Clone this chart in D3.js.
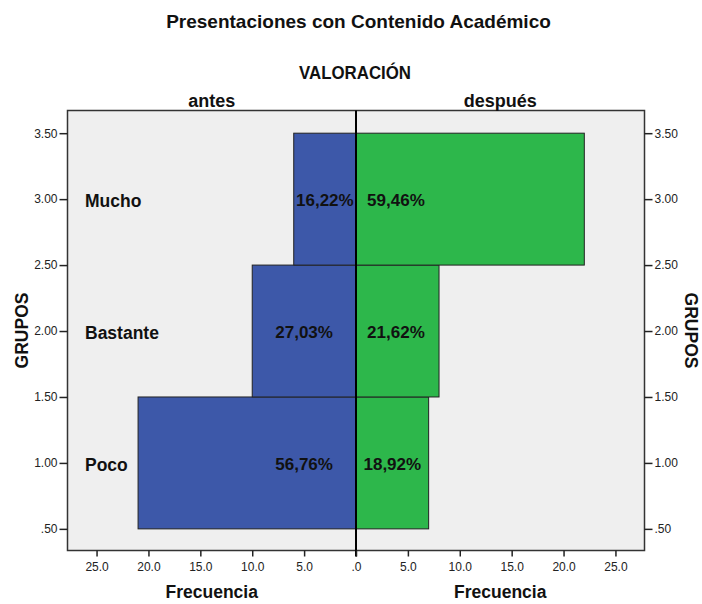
<!DOCTYPE html>
<html>
<head>
<meta charset="utf-8">
<script src="https://cdn.jsdelivr.net/npm/d3@7"></script>
<style>
  html, body { margin: 0; padding: 0; background: #ffffff; }
  svg { display: block; font-family: "Liberation Sans", Arial, sans-serif; }
</style>
</head>
<body>
<svg id="chart" width="702" height="604"></svg>
<script>
// ---- data ----
const groups = ["Poco", "Bastante", "Mucho"];
const groupValues = [1, 2, 3];
const antes = [21, 10, 6];
const despues = [7, 8, 22];
const antesPct = ["56,76%", "27,03%", "16,22%"];
const despuesPct = ["18,92%", "21,62%", "59,46%"];
const yTicks = [0.5, 1.0, 1.5, 2.0, 2.5, 3.0, 3.5];
const xTicks = [0, 5, 10, 15, 20, 25];

(function () {
const svg = d3.select("#chart");

const pL = 67.5, pR = 644.5, pT = 110.5, pB = 550.5, mid = 356;
const xL = d3.scaleLinear().domain([0, 27.8]).range([mid, pL]);
const xR = d3.scaleLinear().domain([0, 27.8]).range([mid, pR]);
const y = d3.scaleLinear().domain([0.336, 3.672]).range([pB, pT]);

const blue = "#3d58a9", green = "#2db74b";

// background
svg.append("rect").attr("x", pL).attr("y", pT)
  .attr("width", pR - pL).attr("height", pB - pT)
  .attr("fill", "#efefef");

// bars
const rows = groups.map((g, i) => ({ g, v: groupValues[i], a: antes[i], d: despues[i], ap: antesPct[i], dp: despuesPct[i] }));

svg.append("g").selectAll("rect").data(rows).join("rect")
  .attr("x", d => xL(d.a)).attr("y", d => y(d.v + 0.5))
  .attr("width", d => xL(0) - xL(d.a)).attr("height", d => y(d.v - 0.5) - y(d.v + 0.5))
  .attr("fill", blue).attr("stroke", "#222").attr("stroke-width", 1);

svg.append("g").selectAll("rect").data(rows).join("rect")
  .attr("x", xR(0)).attr("y", d => y(d.v + 0.5))
  .attr("width", d => xR(d.d) - xR(0)).attr("height", d => y(d.v - 0.5) - y(d.v + 0.5))
  .attr("fill", green).attr("stroke", "#222").attr("stroke-width", 1);

// frame
svg.append("rect").attr("x", pL).attr("y", pT)
  .attr("width", pR - pL).attr("height", pB - pT)
  .attr("fill", "none").attr("stroke", "#333").attr("stroke-width", 1.5);

// center line
svg.append("line").attr("x1", mid).attr("x2", mid).attr("y1", pT).attr("y2", pB + 6)
  .attr("stroke", "#000").attr("stroke-width", 2);

// axes
const fmtY = v => d3.format(".2f")(v).replace(/^0\./, ".");
const fmtX = v => d3.format(".1f")(v).replace(/^0\./, ".");

function styleAxis(g) {
  g.select(".domain").remove();
  g.selectAll(".tick line").attr("stroke", "#222").attr("stroke-width", 1.5);
  g.selectAll(".tick text").attr("fill", "#222").style("font-size", "12px")
    .style("font-family", "'Liberation Sans', Arial, sans-serif");
}

svg.append("g").attr("transform", `translate(${pL},0)`)
  .call(d3.axisLeft(y).tickValues(yTicks).tickFormat(fmtY).tickSize(8).tickPadding(2))
  .call(styleAxis);
svg.append("g").attr("transform", `translate(${pR},0)`)
  .call(d3.axisRight(y).tickValues(yTicks).tickFormat(fmtY).tickSize(8).tickPadding(2))
  .call(styleAxis);
svg.append("g").attr("transform", `translate(0,${pB})`)
  .call(d3.axisBottom(xL).tickValues(xTicks).tickFormat(fmtX).tickSize(6).tickPadding(6))
  .call(styleAxis);
svg.append("g").attr("transform", `translate(0,${pB})`)
  .call(d3.axisBottom(xR).tickValues(xTicks.filter(v => v > 0)).tickFormat(fmtX).tickSize(6).tickPadding(6))
  .call(styleAxis);

// category labels
svg.append("g").selectAll("text").data(rows).join("text")
  .attr("x", 85).attr("y", d => y(d.v) + 2).attr("dy", "0.35em")
  .style("font-size", "17.5px").style("font-weight", "bold").attr("fill", "#111")
  .text(d => d.g);

// percent labels (left): centred on bar, but kept near the centre line
svg.append("g").selectAll("text").data(rows).join("text")
  .attr("x", d => Math.max(xL(d.a / 2), xL(5))).attr("y", d => y(d.v) + 1).attr("dy", "0.35em")
  .attr("text-anchor", "middle")
  .style("font-size", "17px").style("font-weight", "bold").attr("fill", "#111")
  .text(d => d.ap);

// percent labels (right)
svg.append("g").selectAll("text").data(rows).join("text")
  .attr("x", d => Math.min(xR(d.d / 2), xR(3.85))).attr("y", d => y(d.v) + 1).attr("dy", "0.35em")
  .attr("text-anchor", "middle")
  .style("font-size", "17px").style("font-weight", "bold").attr("fill", "#111")
  .text(d => d.dp);

// titles
const bold = (sel, size) => sel.style("font-size", size + "px").style("font-weight", "bold").attr("fill", "#111").attr("text-anchor", "middle");
svg.append("text").attr("x", 358.5).attr("y", 28).call(bold, 19).text("Presentaciones con Contenido Académico");
svg.append("text").attr("x", 355).attr("y", 79).call(bold, 18)
  .attr("textLength", 112).attr("lengthAdjust", "spacingAndGlyphs").text("VALORACIÓN");
svg.append("text").attr("x", (pL + mid) / 2).attr("y", 107).call(bold, 18).text("antes");
svg.append("text").attr("x", (mid + pR) / 2).attr("y", 107).call(bold, 18).text("después");
svg.append("text").attr("x", (pL + mid) / 2).attr("y", 598).call(bold, 17.5).text("Frecuencia");
svg.append("text").attr("x", (mid + pR) / 2).attr("y", 598).call(bold, 17.5).text("Frecuencia");
svg.append("text").attr("transform", `translate(28,${(pT + pB) / 2}) rotate(-90)`).call(bold, 17.5).text("GRUPOS");
svg.append("text").attr("transform", `translate(685,${(pT + pB) / 2}) rotate(90)`).call(bold, 17.5).text("GRUPOS");
})();
</script>
</body>
</html>
